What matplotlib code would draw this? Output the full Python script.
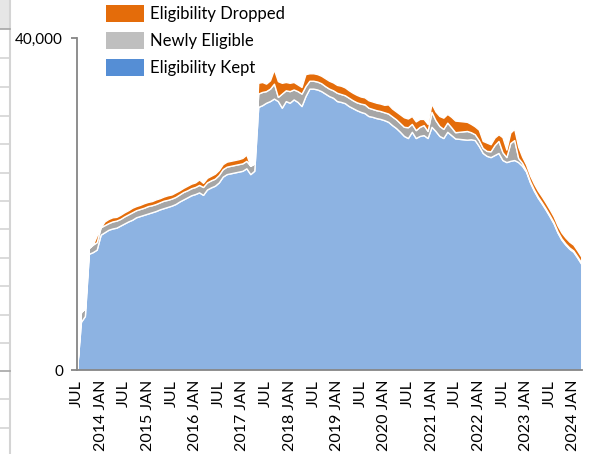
import numpy as np
import matplotlib
matplotlib.use("Agg")
import matplotlib.pyplot as plt
from matplotlib.patches import Patch, Rectangle
from matplotlib.lines import Line2D

plt.rcParams['font.family'] = ['Lato', 'DejaVu Sans']

# monthly values, Jul 2013 .. Mar 2024
kept = [0, 5800, 6500, 14000, 14200, 14500, 16300, 16600, 16900, 17050,
        17150, 17400, 17650, 17900, 18100, 18400, 18550, 18700, 18850, 19000,
        19150, 19350, 19500, 19650, 19800, 20000, 20300, 20550, 20800, 21050,
        21200, 21400, 21100, 21750, 22000, 22200, 22600, 23300, 23600, 23700,
        23800, 23900, 24000, 24300, 23600, 24000, 31700, 31900, 32200, 32400,
        32700, 32400, 31600, 32400, 32200, 32600, 32300, 31800, 33000, 33900,
        33900, 33800, 33600, 33300, 33000, 32800, 32400, 32300, 32150, 31800,
        31550, 31300, 31100, 30950, 30600, 30500, 30350, 30250, 30100, 29900,
        29500, 29150, 28700, 28200, 27950, 28700, 27950, 28200, 28300, 27950,
        29300, 28800, 28200, 27950, 28700, 28300, 27900, 27850, 27800, 27750,
        27800, 27700, 27000, 26150, 25800, 25650, 25900, 26150, 25300, 25050,
        25200, 25300, 25050, 24600, 23900, 22600, 21600, 20750, 20050, 19300,
        18500, 17650, 16550, 15700, 15100, 14600, 14250, 13550, 12800]

newly = [0, 1200, 900, 700, 900, 900, 900, 850, 800, 850,
         850, 800, 850, 850, 900, 850, 850, 850, 900, 850,
         850, 850, 900, 850, 850, 850, 850, 900, 850, 850,
         850, 900, 950, 850, 850, 850, 900, 900, 900, 900,
         900, 900, 900, 900, 1000, 900, 1600, 1600, 1400, 1500,
         1800, 500, 1700, 1300, 1400, 1200, 1300, 1500, 1200, 950,
         950, 950, 950, 900, 900, 900, 1000, 950, 950, 1000,
         950, 950, 1000, 1050, 1000, 950, 950, 950, 950, 1000,
         1050, 1050, 1050, 1100, 1300, 950, 950, 1100, 1200, 850,
         1800, 1300, 1200, 1100, 1100, 950, 750, 850, 950, 1050,
         850, 700, 700, 600, 600, 700, 1200, 1450, 950, 600,
         2150, 2400, 500, 350, 150, 150, 150, 150, 150, 150,
         150, 150, 150, 150, 150, 150, 150, 150, 150]

dropped = [0, 0, 0, 0, 0, 800, 0, 450, 500, 500,
           450, 500, 500, 500, 550, 500, 500, 550, 500, 500,
           550, 500, 500, 550, 500, 550, 500, 500, 550, 550,
           550, 650, 500, 550, 550, 600, 600, 600, 600, 600,
           600, 600, 650, 750, 0, 0, 1300, 1200, 900, 1000,
           1700, 1900, 1300, 1000, 1000, 900, 800, 800, 1450, 900,
           900, 900, 900, 950, 950, 950, 950, 1000, 950, 900,
           900, 900, 850, 850, 900, 900, 900, 900, 900, 1100,
           950, 950, 1050, 1150, 1050, 950, 1050, 950, 750, 850,
           1000, 1050, 1200, 1350, 1050, 1250, 1400, 1300, 1200, 1100,
           1000, 950, 1250, 850, 1000, 850, 900, 800, 1800, 900,
           1250, 1350, 1350, 750, 700, 700, 700, 700, 700, 700,
           700, 700, 700, 700, 700, 700, 700, 700, 700]

tick_labels = ["JUL", "2014 JAN", "JUL", "2015 JAN", "JUL", "2016 JAN",
               "JUL", "2017 JAN", "JUL", "2018 JAN", "JUL", "2019 JAN",
               "JUL", "2020 JAN", "JUL", "2021 JAN", "JUL", "2022 JAN",
               "JUL", "2023 JAN", "JUL", "2024 JAN"]

months = np.arange(len(kept))

W, H = 597, 454
fig = plt.figure(figsize=(W / 100, H / 100), dpi=100)

# spreadsheet grid showing at the left edge
fig.add_artist(Rectangle((0, 1 - 29 / H), 10 / W, 29 / H, transform=fig.transFigure,
                         facecolor='#e6e6e6', edgecolor='none'))
fig.add_artist(Line2D([10 / W, 10 / W], [0, 1], transform=fig.transFigure,
                      color='#d4d4d4', lw=1.5))
for yy in [29, 58, 87, 116, 144, 173, 201, 229, 258, 286, 315, 343, 371, 399, 428]:
    c = '#a6a6a6' if yy in (29, 371) else '#d4d4d4'
    fig.add_artist(Line2D([0, 10 / W], [1 - yy / H, 1 - yy / H], transform=fig.transFigure,
                          color=c, lw=1.2))

ax = fig.add_axes([77 / W, 1 - 370 / H, (582 - 77) / W, (370 - 38) / H])
ax.stackplot(months, kept, newly, dropped,
             colors=['#8db3e2', '#a6a6a6', '#e46c0a'],
             edgecolor='white', linewidth=1.0)

ax.set_xlim(0, 128.2)
ax.set_ylim(0, 40000)
ax.set_yticks([0, 40000])
ax.set_yticklabels(['0', '40,000'])
ax.set_xticks(np.arange(0, 127, 6))
ax.set_xticklabels(tick_labels, rotation=90, va='top', ha='center')

for s in ['top', 'right']:
    ax.spines[s].set_visible(False)
for s in ['left', 'bottom']:
    ax.spines[s].set_color('#868686')
    ax.spines[s].set_linewidth(1.3)

ax.tick_params(axis='y', length=4, width=1.3, color='#868686', pad=6, labelsize=11)
ax.tick_params(axis='x', length=0, pad=7, labelsize=11.5)

handles = [Patch(facecolor='#e46c0a', label='Eligibility Dropped'),
           Patch(facecolor='#bfbfbf', label='Newly Eligible'),
           Patch(facecolor='#558ed5', label='Eligibility Kept')]
fig.legend(handles=handles, loc='upper left', bbox_to_anchor=(106 / W, 1 - 5 / H),
           frameon=False, fontsize=12, handlelength=2.3, handleheight=1.2,
           handletextpad=0.35, labelspacing=0.6, borderpad=0, borderaxespad=0)

fig.savefig('out.png', dpi=100)
